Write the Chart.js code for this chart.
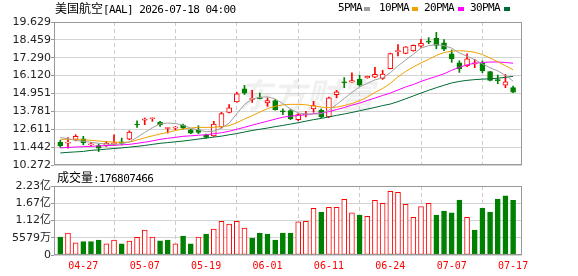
<!DOCTYPE html>
<html>
<head>
<meta charset="utf-8">
<script src="https://cdn.jsdelivr.net/npm/chart.js@4.4.1/dist/chart.umd.min.js"></script>
<style>
  html, body { margin: 0; padding: 0; background: #fff; }
  body { position: relative; width: 578px; height: 276px; overflow: hidden; }
  canvas { position: absolute; left: 0; }
  #kline { top: 0; }
  #vol { top: 166px; }
  .txt { position: absolute; white-space: nowrap; color: #000; line-height: 14px; }
  .cjk { font-family: "Noto Sans CJK SC", sans-serif; font-size: 12px; }
  .mono { font-family: "DejaVu Sans Mono", monospace; font-size: 11px; letter-spacing: -0.6px; }
  .key { position: absolute; top: 7px; width: 6px; height: 4px; }
</style>
</head>
<body>
<canvas id="kline" width="578" height="172"></canvas>
<canvas id="vol" width="578" height="110"></canvas>

<div class="txt" style="left:55px;top:1px"><span class="cjk">美国航空</span><span class="mono">[AAL] 2026-07-18 04:00</span></div>
<div class="txt mono" style="left:338px;top:1px">5PMA</div>
<div class="key" style="left:364px;background:#a0a0a0"></div>
<div class="txt mono" style="left:379px;top:1px">10PMA</div>
<div class="key" style="left:412px;background:#f0a000"></div>
<div class="txt mono" style="left:424px;top:1px">20PMA</div>
<div class="key" style="left:458px;background:#ff00ff"></div>
<div class="txt mono" style="left:470px;top:1px">30PMA</div>
<div class="key" style="left:504px;background:#006a35"></div>
<div class="txt" style="left:57px;top:170px"><span class="cjk">成交量</span><span class="mono">:176807466</span></div>

<script>
// trading days shown on the chart
const dates = ["04-22","04-23","04-24","04-27","04-28","04-29","04-30","05-01","05-04","05-05",
  "05-06","05-07","05-08","05-11","05-12","05-13","05-14","05-15","05-18","05-19",
  "05-20","05-21","05-22","05-26","05-27","05-28","05-29","06-01","06-02","06-03",
  "06-04","06-05","06-08","06-09","06-10","06-11","06-12","06-15","06-16","06-17",
  "06-18","06-22","06-23","06-24","06-25","06-26","06-29","06-30","07-01","07-02",
  "07-06","07-07","07-08","07-09","07-10","07-13","07-14","07-15","07-16","07-17"];

const opens = [11.77,11.70,11.94,11.99,11.59,11.54,11.54,11.60,11.79,11.97,
  12.95,13.20,13.30,13.06,12.66,12.68,12.89,12.58,12.58,12.23,
  12.18,12.76,13.72,14.40,15.26,14.56,14.65,14.34,14.49,13.82,
  13.83,13.24,13.55,13.94,13.85,13.42,14.88,15.71,15.70,15.87,
  15.97,16.02,15.93,16.57,17.69,17.57,17.74,18.05,18.38,18.56,
  18.27,17.55,16.95,16.76,16.89,16.93,16.38,15.86,15.50,15.33];
const highs = [11.89,12.07,12.25,12.15,11.74,11.64,11.81,12.25,12.03,12.51,
  13.17,13.35,13.35,13.13,12.71,12.80,12.95,12.61,12.84,12.30,
  13.13,13.72,14.23,15.04,15.48,15.15,14.98,14.67,14.56,13.94,
  13.90,13.63,13.78,14.44,13.94,14.72,15.15,15.99,16.31,16.14,
  16.09,16.66,16.47,17.59,18.15,18.02,18.13,18.49,18.61,18.95,
  18.48,17.80,17.09,17.55,17.19,17.08,16.40,16.16,16.20,15.43];
const lows = [11.43,11.37,11.85,11.59,11.52,11.15,11.48,11.54,11.59,11.92,
  12.73,12.91,13.13,12.80,12.36,12.58,12.62,12.32,12.32,12.03,
  12.14,12.69,13.68,14.38,14.88,14.36,14.59,14.11,13.86,13.57,
  13.24,13.17,13.42,13.72,13.37,13.37,14.67,15.33,15.70,15.43,
  15.95,15.99,15.87,16.56,17.41,17.55,17.72,17.96,18.21,17.88,
  17.75,16.99,16.33,16.70,16.64,16.31,15.77,15.59,15.33,15.00];
const closes = [11.52,11.77,12.14,11.74,11.66,11.37,11.70,11.72,11.69,12.43,
  12.89,13.27,13.34,12.89,12.69,12.72,12.69,12.36,12.40,12.07,
  12.95,13.63,14.01,14.93,14.97,14.65,14.61,14.49,13.90,13.75,
  13.28,13.57,13.60,14.16,13.42,14.67,15.06,15.64,15.79,15.50,
  16.07,16.20,16.22,17.57,17.74,18.00,18.10,18.23,18.31,18.09,
  17.85,17.22,16.58,17.22,16.95,16.42,15.81,15.79,15.72,15.04];

const ma5 = [12.07,11.99,11.89,11.81,11.76,11.69,11.64,11.60,11.66,11.78,
  12.08,12.40,12.71,12.96,13.02,12.99,12.88,12.68,12.57,12.45,
  12.49,12.69,13.01,13.63,14.23,14.59,14.70,14.73,14.59,14.29,
  13.93,13.68,13.60,13.60,13.63,13.86,14.23,14.62,15.02,15.38,
  15.61,15.84,15.97,16.31,16.76,17.14,17.52,17.92,18.08,18.15,
  18.08,17.92,17.60,17.39,17.16,16.89,16.63,16.43,16.14,15.76];
const ma10 = [11.95,11.95,11.93,11.92,11.89,11.84,11.80,11.77,11.75,11.77,
  11.91,12.05,12.18,12.30,12.40,12.53,12.63,12.69,12.74,12.73,
  12.74,12.78,12.84,13.04,13.28,13.50,13.73,13.96,14.11,14.21,
  14.24,14.24,14.21,14.14,14.06,14.03,14.06,14.16,14.30,14.48,
  14.72,15.02,15.28,15.61,16.04,16.39,16.69,16.95,17.19,17.44,
  17.63,17.72,17.75,17.72,17.65,17.50,17.27,17.03,16.77,16.50];
const ma20 = [11.39,11.42,11.45,11.47,11.49,11.52,11.54,11.56,11.59,11.62,
  11.69,11.76,11.85,11.95,12.02,12.08,12.15,12.18,12.22,12.25,
  12.32,12.38,12.48,12.61,12.74,12.88,13.01,13.14,13.27,13.40,
  13.47,13.51,13.57,13.63,13.68,13.76,13.90,14.03,14.19,14.32,
  14.49,14.65,14.82,14.98,15.18,15.38,15.54,15.74,15.91,16.07,
  16.24,16.47,16.66,16.83,16.93,16.98,17.01,17.01,16.98,16.93];
const ma30 = [11.06,11.10,11.13,11.16,11.23,11.26,11.31,11.35,11.39,11.44,
  11.49,11.55,11.62,11.69,11.74,11.79,11.84,11.90,11.97,12.03,
  12.10,12.16,12.25,12.33,12.43,12.53,12.61,12.69,12.78,12.86,
  12.95,13.04,13.14,13.24,13.32,13.42,13.52,13.61,13.71,13.82,
  13.93,14.04,14.16,14.26,14.42,14.60,14.79,14.98,15.16,15.33,
  15.49,15.64,15.74,15.81,15.86,15.89,15.91,15.95,16.01,16.07];

// volume in millions of shares
const volumes = [58,71,39,43,43,48,36,48,36,45,
  57,81,58,46,48,36,61,36,58,68,
  84,109,100,109,87,55,71,68,48,71,
  71,107,109,151,139,154,154,180,136,129,
  125,177,167,206,203,164,122,157,167,129,
  142,136,178,122,81,151,139,181,191,176.807466];

const priceTicks = [10.272, 11.442, 12.611, 13.781, 14.951, 16.120, 17.290, 18.459, 19.629];
const volTicks = [0, 55790000, 111580000, 167370000, 223160000];
const volTickLabels = ["0", "5579万", "1.12亿", "1.67亿", "2.23亿"];
const dateTickIdx = [3, 11, 19, 27, 35, 43, 51, 59];

const RED = "#ff0000", GREEN = "#008000";
const GRID = "#d3d3d3", FRAME = "#999999";
const X_MIN = -0.82, X_MAX = 60.16;

const idx = closes.map((_, i) => i);
const candleUp = idx.map(i => closes[i] >= opens[i]);
const volUp = idx.map(i => i === 0 ? closes[0] >= opens[0] : closes[i] >= closes[i - 1]);

const framePlugin = {
  id: "frame",
  afterDraw(chart) {
    const { ctx, chartArea: a } = chart;
    ctx.save();
    ctx.strokeStyle = FRAME;
    ctx.lineWidth = 1;
    ctx.strokeRect(a.left + 0.5, a.top + 0.5, a.right - a.left - 1, a.bottom - a.top - 1);
    ctx.restore();
  }
};

const watermarkPlugin = {
  id: "watermark",
  beforeDraw(chart) {
    const ctx = chart.ctx;
    ctx.save();
    ctx.fillStyle = "rgba(0,0,0,0.06)";
    ctx.font = 'italic bold 34px "Noto Sans CJK SC"';
    ctx.textBaseline = "alphabetic";
    ctx.fillText("东方财富", 238, 108);
    ctx.restore();
  }
};

function xAxis(showLabels) {
  return {
    type: "linear",
    min: X_MIN,
    max: X_MAX,
    offset: false,
    afterBuildTicks: s => { s.ticks = dateTickIdx.map(v => ({ value: v })); },
    grid: { color: "#cccccc", drawTicks: false },
    border: { display: false, dash: [4, 3] },
    ticks: {
      display: showLabels,
      autoSkip: false,
      maxRotation: 0,
      padding: 5,
      color: RED,
      font: { family: "DejaVu Sans Mono", size: 10 },
      callback: v => dates[v]
    },
    afterFit: s => { s.height = showLabels ? 21 : 0; }
  };
}

function lineSet(values, color) {
  return {
    type: "line",
    data: values.map((v, i) => ({ x: i, y: v })),
    borderColor: color,
    borderWidth: 1,
    pointRadius: 0,
    tension: 0,
    order: 1
  };
}

new Chart(document.getElementById("kline"), {
  type: "bar",
  data: {
    datasets: [
      {
        data: idx.map(i => ({ x: i, y: [lows[i], highs[i]] })),
        backgroundColor: candleUp.map(u => u ? RED : GREEN),
        borderWidth: 0,
        barThickness: 1,
        grouped: false,
        order: 3
      },
      {
        data: idx.map(i => ({ x: i, y: [Math.min(opens[i], closes[i]), Math.max(opens[i], closes[i])] })),
        backgroundColor: candleUp.map(u => u ? "#ffffff" : GREEN),
        borderColor: candleUp.map(u => u ? RED : GREEN),
        borderWidth: 1,
        borderSkipped: false,
        barThickness: 5,
        minBarLength: 1,
        grouped: false,
        order: 2
      },
      lineSet(ma5, "#a0a0a0"),
      lineSet(ma10, "#f0a000"),
      lineSet(ma20, "#ff00ff"),
      lineSet(ma30, "#006a35")
    ]
  },
  options: {
    responsive: false,
    animation: false,
    events: [],
    layout: { padding: { left: 0, right: 56, top: 22, bottom: 7 } },
    plugins: { legend: { display: false }, tooltip: { enabled: false } },
    scales: {
      x: xAxis(false),
      y: {
        min: priceTicks[0],
        max: priceTicks[priceTicks.length - 1],
        afterBuildTicks: s => { s.ticks = priceTicks.map(v => ({ value: v })); },
        grid: { color: GRID, tickLength: 3, tickColor: FRAME },
        border: { display: false },
        ticks: {
          padding: 0,
          color: "#222",
          font: { family: "DejaVu Sans", size: 11 },
          callback: v => Number(v).toFixed(3)
        },
        afterFit: s => { s.width = 54; }
      }
    }
  },
  plugins: [watermarkPlugin, framePlugin]
});

new Chart(document.getElementById("vol"), {
  type: "bar",
  data: {
    datasets: [
      {
        data: idx.map(i => ({ x: i, y: volumes[i] * 1e6 })),
        backgroundColor: volUp.map(u => u ? "#ffffff" : GREEN),
        borderColor: volUp.map(u => u ? RED : GREEN),
        borderWidth: 1,
        borderSkipped: false,
        barThickness: 5,
        grouped: false
      }
    ]
  },
  options: {
    responsive: false,
    animation: false,
    events: [],
    layout: { padding: { left: 0, right: 56, top: 20, bottom: 0 } },
    plugins: { legend: { display: false }, tooltip: { enabled: false } },
    scales: {
      x: xAxis(true),
      y: {
        min: 0,
        max: volTicks[volTicks.length - 1],
        afterBuildTicks: s => { s.ticks = volTicks.map(v => ({ value: v })); },
        grid: { color: GRID, tickLength: 3, tickColor: FRAME },
        border: { display: false },
        ticks: {
          padding: 0,
          color: "#222",
          font: { family: "'DejaVu Sans', 'Noto Sans CJK SC'", size: 11 },
          callback: (v, i) => volTickLabels[i]
        },
        afterFit: s => { s.width = 54; }
      }
    }
  },
  plugins: [framePlugin]
});
</script>
</body>
</html>
